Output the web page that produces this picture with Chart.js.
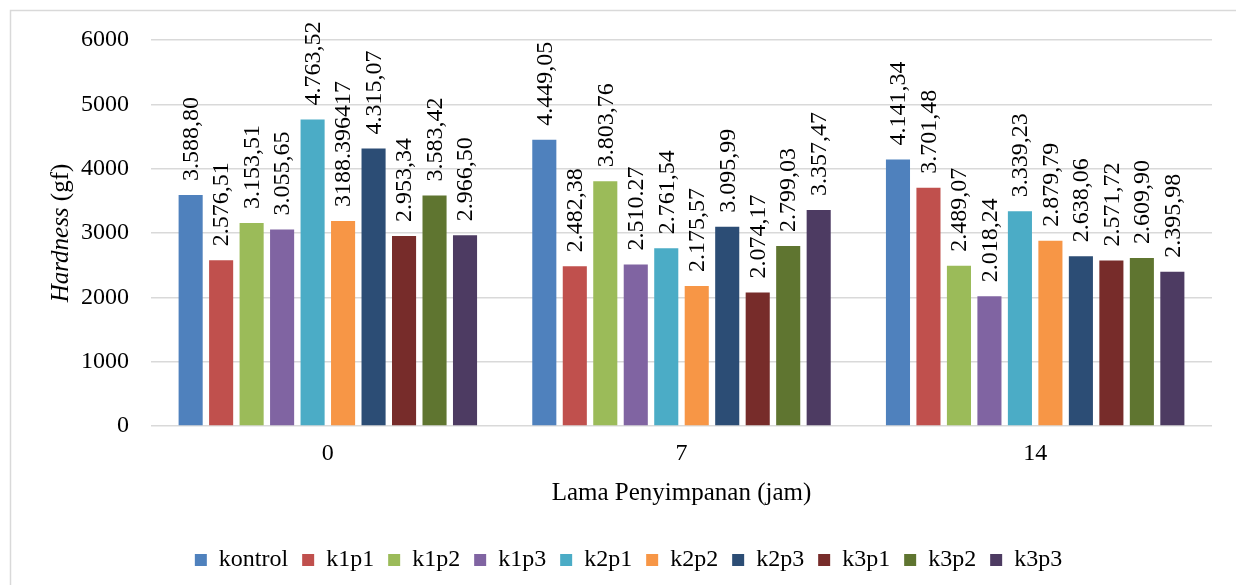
<!DOCTYPE html>
<html>
<head>
<meta charset="utf-8">
<script src="https://cdn.jsdelivr.net/npm/chart.js@4/dist/chart.umd.min.js"></script>
<style>
html,body{margin:0;padding:0;background:#fff;}
#wrap{width:1236px;height:585px;}
</style>
</head>
<body>
<div id="wrap"><canvas id="c" width="1236" height="585"></canvas></div>
<script>
// Categories (storage time, hours)
const categories = ['0', '7', '14'];
const seriesNames = ['kontrol','k1p1','k1p2','k1p3','k2p1','k2p2','k2p3','k3p1','k3p2','k3p3'];

// Values per series, for 0 / 7 / 14
const kontrol = [3588.80, 4449.05, 4141.34];
const k1p1 = [2576.51, 2482.38, 3701.48];
const k1p2 = [3153.51, 3803.76, 2489.07];
const k1p3 = [3055.65, 2510.27, 2018.24];
const k2p1 = [4763.52, 2761.54, 3339.23];
const k2p2 = [3188.396417, 2175.57, 2879.79];
const k2p3 = [4315.07, 3095.99, 2638.06];
const k3p1 = [2953.34, 2074.17, 2571.72];
const k3p2 = [3583.42, 2799.03, 2609.90];
const k3p3 = [2966.50, 3357.47, 2395.98];

// Value label texts as printed on the chart
const kontrolLbl = ['3.588,80', '4.449,05', '4.141,34'];
const k1p1Lbl = ['2.576,51', '2.482,38', '3.701,48'];
const k1p2Lbl = ['3.153,51', '3.803,76', '2.489,07'];
const k1p3Lbl = ['3.055,65', '2.510.27', '2.018,24'];
const k2p1Lbl = ['4.763,52', '2.761,54', '3.339,23'];
const k2p2Lbl = ['3188.396417', '2.175,57', '2.879,79'];
const k2p3Lbl = ['4.315,07', '3.095,99', '2.638,06'];
const k3p1Lbl = ['2.953,34', '2.074,17', '2.571,72'];
const k3p2Lbl = ['3.583,42', '2.799,03', '2.609,90'];
const k3p3Lbl = ['2.966,50', '3.357,47', '2.395,98'];

const yTicks = [0, 1000, 2000, 3000, 4000, 5000, 6000];
const xTitle = 'Lama Penyimpanan (jam)';
const yTitleItalic = 'Hardness';
const yTitleRest = ' (gf)';

const colors = ['#4F81BD','#C0504D','#9BBB59','#8064A2','#4BACC6','#F79646','#2C4D75','#772C2A','#5F7530','#4D3B62'];
const values = [kontrol,k1p1,k1p2,k1p3,k2p1,k2p2,k2p3,k3p1,k3p2,k3p3];
const labelTexts = [kontrolLbl,k1p1Lbl,k1p2Lbl,k1p3Lbl,k2p1Lbl,k2p2Lbl,k2p3Lbl,k3p1Lbl,k3p2Lbl,k3p3Lbl];

const FONT = '"Liberation Serif", "Times New Roman", serif';

const datasets = seriesNames.map((n, i) => ({
  label: n,
  data: values[i],
  valueLabels: labelTexts[i],
  backgroundColor: colors[i],
  borderWidth: 0,
  barPercentage: 0.79,
  categoryPercentage: 0.862
}));

const framePlugin = {
  id: 'frame',
  beforeDraw(chart) {
    const ctx = chart.ctx;
    ctx.save();
    ctx.fillStyle = '#fff';
    ctx.fillRect(0, 0, chart.width, chart.height);
    ctx.strokeStyle = '#D9D9D9';
    ctx.lineWidth = 1.5;
    ctx.strokeRect(10.5, 10.5, 1400, 800);
    ctx.restore();
  }
};

const valueLabelPlugin = {
  id: 'valueLabels',
  afterDatasetsDraw(chart) {
    const ctx = chart.ctx;
    ctx.save();
    ctx.font = '24px ' + FONT;
    ctx.fillStyle = '#000';
    ctx.textAlign = 'left';
    ctx.textBaseline = 'middle';
    chart.data.datasets.forEach((ds, i) => {
      const meta = chart.getDatasetMeta(i);
      meta.data.forEach((bar, j) => {
        ctx.save();
        ctx.translate(bar.x + 1, bar.y - 14);
        ctx.rotate(-Math.PI / 2);
        ctx.fillText(ds.valueLabels[j], 0, 0);
        ctx.restore();
      });
    });
    ctx.restore();
  }
};

const yTitlePlugin = {
  id: 'yTitle',
  afterDraw(chart) {
    const ctx = chart.ctx;
    const area = chart.chartArea;
    ctx.save();
    const fi = 'italic 25px ' + FONT;
    const fr = '25px ' + FONT;
    ctx.font = fi; const w1 = ctx.measureText(yTitleItalic).width;
    ctx.font = fr; const w2 = ctx.measureText(yTitleRest).width;
    const total = w1 + w2;
    ctx.translate(61, (area.top + area.bottom) / 2);
    ctx.rotate(-Math.PI / 2);
    ctx.fillStyle = '#000';
    ctx.textBaseline = 'middle';
    ctx.textAlign = 'left';
    ctx.font = fi; ctx.fillText(yTitleItalic, -total / 2, 0);
    ctx.font = fr; ctx.fillText(yTitleRest, -total / 2 + w1, 0);
    ctx.restore();
  }
};

new Chart(document.getElementById('c'), {
  type: 'bar',
  data: { labels: categories, datasets: datasets },
  plugins: [framePlugin, valueLabelPlugin, yTitlePlugin],
  options: {
    responsive: false,
    animation: false,
    layout: { padding: { left: 45, right: 24, top: 40, bottom: 3 } },
    plugins: {
      legend: {
        position: 'bottom',
        labels: {
          font: { family: FONT, size: 24 },
          color: '#000',
          boxWidth: 12,
          boxHeight: 12,
          padding: 14
        }
      },
      tooltip: { enabled: false }
    },
    scales: {
      x: {
        grid: { display: false, drawTicks: false },
        border: { display: false },
        ticks: { font: { family: FONT, size: 24 }, color: '#000', padding: 13 },
        title: {
          display: true, text: xTitle,
          font: { family: FONT, size: 25 }, color: '#000',
          padding: { top: 0, bottom: 26 }
        },
        afterFit(scale) { scale.height = 108; }
      },
      y: {
        min: 0, max: 6000,
        afterBuildTicks(scale) { scale.ticks = yTicks.map(v => ({ value: v })); },
        grid: { color: '#D9D9D9', lineWidth: 1.5, drawTicks: false },
        border: { display: false },
        ticks: {
          font: { family: FONT, size: 24 }, color: '#000', padding: 22,
          callback: (v) => String(v)
        },
        afterFit(scale) { scale.width = 106; }
      }
    }
  }
});
</script>
</body>
</html>
